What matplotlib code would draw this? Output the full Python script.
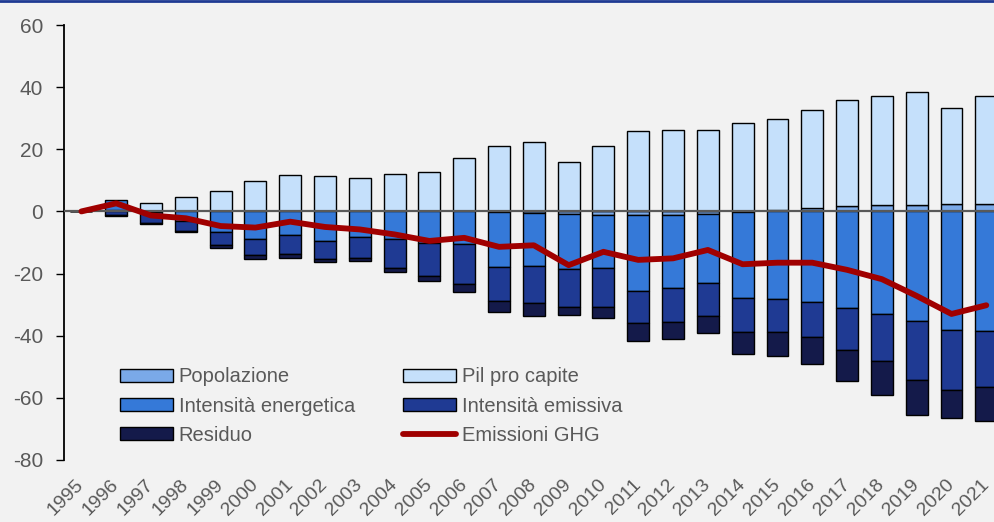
import numpy as np
import matplotlib.pyplot as plt
from matplotlib.lines import Line2D

anni = [str(a) for a in range(1995, 2022)]

popolazione = [0, 0, 0, 0, 0, 0, 0, 0, 0, 0, 0, 0, -0.3, -0.6, -0.9, -1.1, -1.2,
               -1.1, -0.8, -0.3, 0.4, 1.1, 1.6, 2.0, 2.2, 2.3, 2.3]
pil_pro_capite = [0, 0.4, 2.8, 4.7, 6.6, 9.7, 11.6, 11.3, 10.6, 12.0, 12.8, 17.2, 21.1,
                  22.5, 15.9, 21.2, 25.9, 26.1, 26.3, 28.6, 29.5, 31.4, 34.2, 35.0,
                  36.3, 31.0, 35.0]
int_energetica = [0, 3.4, -0.3, -3.0, -6.5, -8.8, -7.5, -9.5, -8.2, -8.8, -10.1, -10.6,
                  -17.5, -16.9, -17.6, -17.1, -24.4, -23.7, -22.3, -27.7, -28.1, -29.3,
                  -31.0, -33.0, -35.3, -38.1, -38.5]
int_emissiva = [0, -1.2, -3.3, -3.3, -4.4, -5.3, -6.1, -5.7, -6.7, -9.3, -10.6, -12.6,
                -11.0, -12.0, -12.4, -12.5, -10.3, -10.7, -10.5, -10.7, -10.8, -11.0,
                -13.6, -15.3, -19.1, -19.5, -17.9]
residuo = [0, -0.4, -0.3, -0.3, -0.9, -1.1, -1.3, -1.1, -1.2, -1.3, -1.6, -2.6, -3.7,
           -4.1, -2.4, -3.5, -5.7, -5.7, -5.4, -7.1, -7.5, -8.7, -9.9, -10.7, -11.1,
           -9.0, -11.2]
emissioni_ghg = [0, 2.6, -1.3, -2.2, -4.7, -5.2, -3.3, -5.0, -5.8, -7.4, -9.5, -8.5,
                 -11.4, -10.9, -17.3, -13.0, -15.6, -15.1, -12.4, -17.0, -16.5, -16.5,
                 -18.8, -21.8, -27.2, -33.0, -30.2]

serie = [
    ('Popolazione', popolazione, '#7aa9e8'),
    ('Pil pro capite', pil_pro_capite, '#c5e0fb'),
    ('Intensità energetica', int_energetica, '#3579d8'),
    ('Intensità emissiva', int_emissiva, '#1f3a93'),
    ('Residuo', residuo, '#141a4a'),
]

grigio = '#595959'
plt.rcParams['font.family'] = ['Liberation Sans', 'DejaVu Sans']
plt.rcParams['axes.unicode_minus'] = False

fig = plt.figure(figsize=(9.95, 5.22), dpi=100, facecolor='#f2f2f2')
ax = fig.add_axes([0.0643, 0.1188, 0.9357, 0.8333], facecolor='#f2f2f2')

x = np.arange(len(anni))
pos = np.zeros(len(anni))
neg = np.zeros(len(anni))
handles = {}
for nome, valori, colore in serie:
    v = np.array(valori, dtype=float)
    base = np.where(v >= 0, pos, neg)
    b = ax.bar(x, v, 0.63, bottom=base, color=colore, edgecolor='black',
               linewidth=1, zorder=2, label=nome)
    handles[nome] = b
    pos = pos + np.where(v >= 0, v, 0)
    neg = neg + np.where(v < 0, v, 0)

ax.axhline(0, color=grigio, lw=1.6, zorder=3)
linea, = ax.plot(x, emissioni_ghg, color='#a00000', lw=4.2, zorder=4,
                 solid_capstyle='round', solid_joinstyle='round', label='Emissioni GHG')

ax.set_xlim(-0.5, 26.25)
ax.set_ylim(-80, 60)
ax.set_yticks(range(-80, 61, 20))
ax.tick_params(axis='y', length=6, width=1, color='black', pad=9,
               labelsize=15, labelcolor=grigio)
ax.set_xticks(x)
ax.set_xticklabels(anni, rotation=45, ha='right', va='center',
                   rotation_mode='anchor')
ax.tick_params(axis='x', length=0, pad=16, labelsize=14, labelcolor=grigio)
for s in ['top', 'right', 'bottom']:
    ax.spines[s].set_visible(False)
ax.spines['left'].set_linewidth(1.3)
ax.spines['left'].set_bounds(-80, 60)

ordine = [handles['Popolazione'], handles['Intensità energetica'], handles['Residuo'],
          handles['Pil pro capite'], handles['Intensità emissiva'], linea]
etichette = ['Popolazione', 'Intensità energetica', 'Residuo',
             'Pil pro capite', 'Intensità emissiva', 'Emissioni GHG']
leg = ax.legend(ordine, etichette, ncol=2, loc='upper left',
                bbox_to_anchor=(0.121, 0.296), bbox_transform=fig.transFigure,
                frameon=False, fontsize=14.5, labelcolor=grigio,
                handlelength=2.6, handleheight=0.6, handletextpad=0.3,
                labelspacing=0.5, columnspacing=2.4, borderpad=0, borderaxespad=0)

fig.add_artist(Line2D([0, 1], [0.998, 0.998], transform=fig.transFigure,
                      color='#1f3a93', lw=2))

fig.savefig('out.png', dpi=100, facecolor=fig.get_facecolor())
